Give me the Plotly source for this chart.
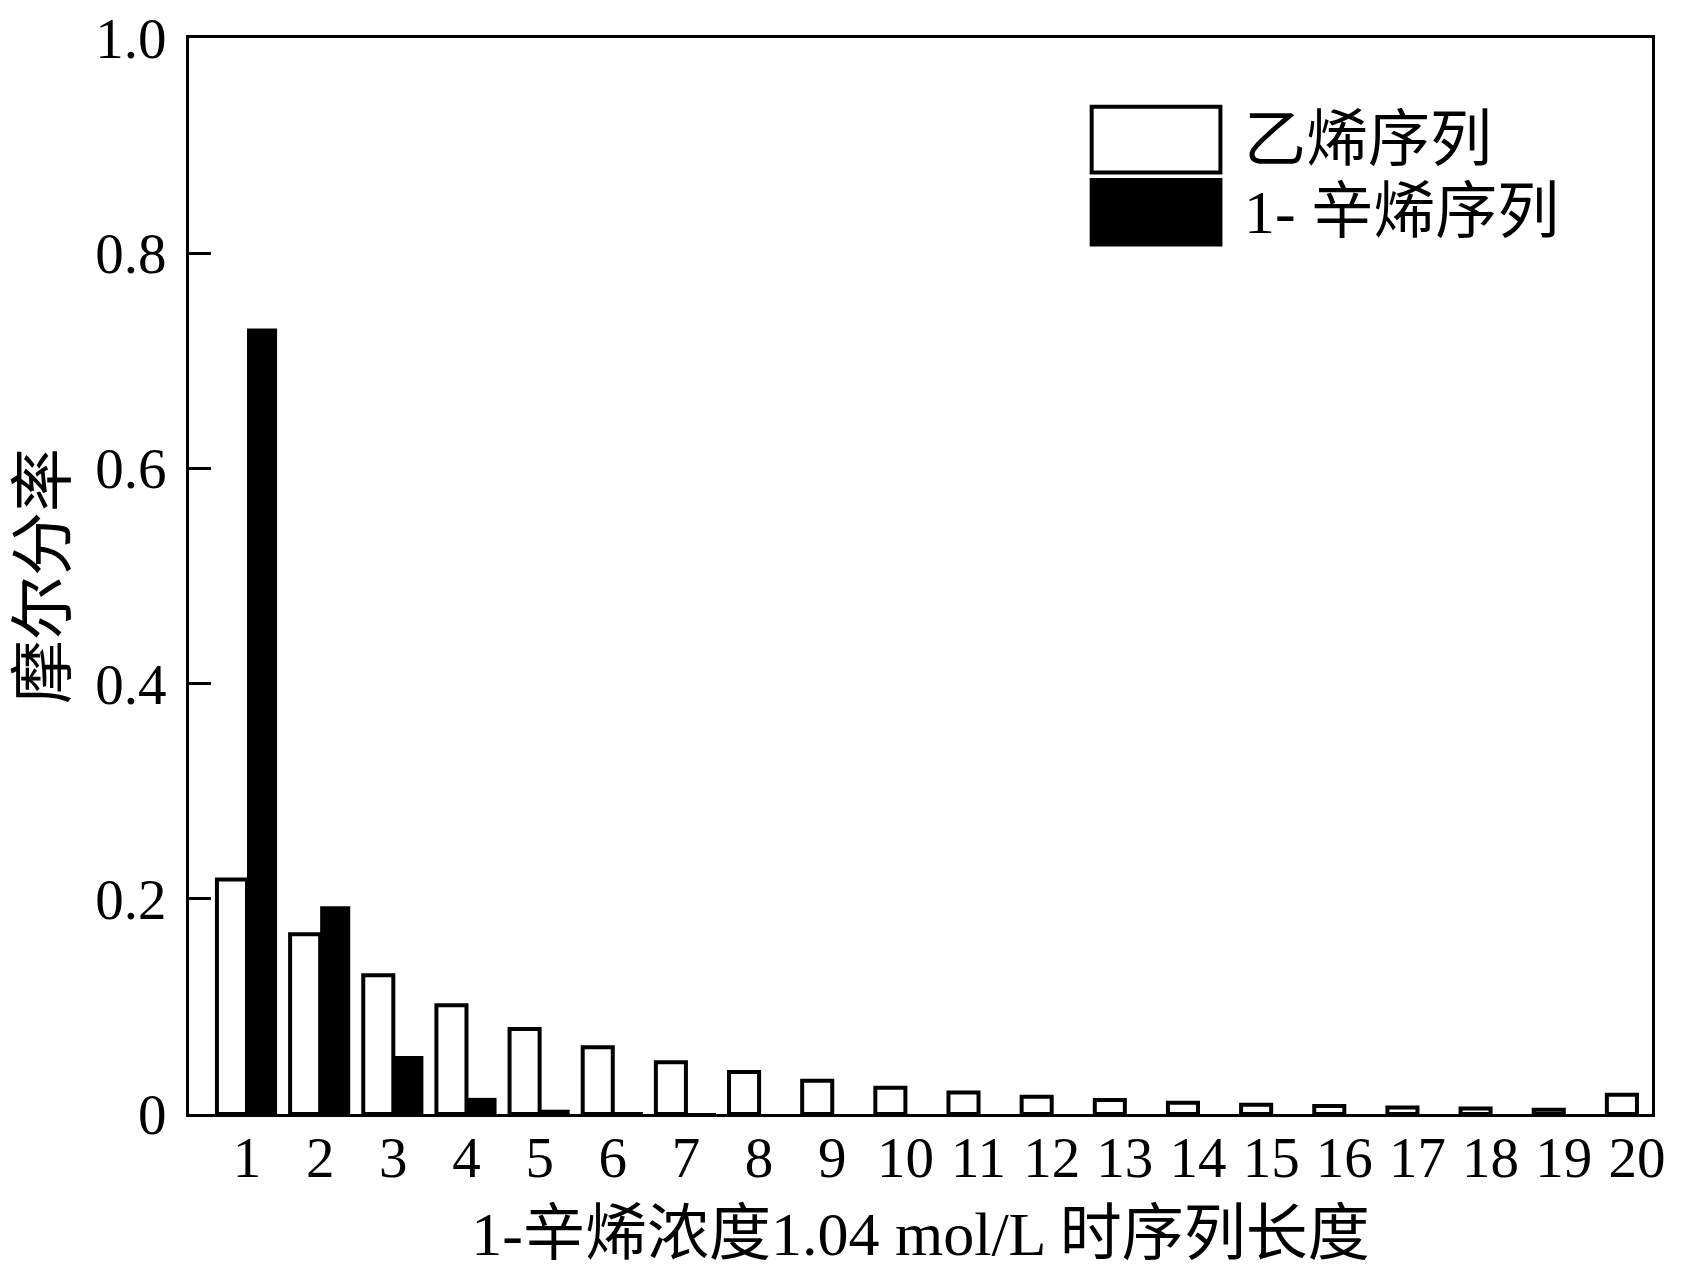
import plotly.graph_objects as go

# ---- data ----
lengths = list(range(1, 21))
tick_labels = [str(i) for i in lengths]
ethylene_seq = [0.218, 0.167, 0.129, 0.101, 0.079, 0.062, 0.048, 0.039, 0.031, 0.0245,
                0.020, 0.016, 0.013, 0.0105, 0.0086, 0.0074, 0.006, 0.005, 0.004, 0.018]
octene_seq = [0.730, 0.193, 0.054, 0.015, 0.004, 0.001, 0.0005, 0, 0, 0,
              0, 0, 0, 0, 0, 0, 0, 0, 0, 0]
y_ticks = [0, 0.2, 0.4, 0.6, 0.8, 1.0]
y_tick_labels = ["0", "0.2", "0.4", "0.6", "0.8", "1.0"]
series_names = ["乙烯序列", "1- 辛烯序列"]

FONT = "Liberation Serif, Times New Roman, Noto Sans CJK SC, serif"

fig = go.Figure()
fig.add_trace(go.Bar(x=lengths, y=ethylene_seq, name=series_names[0],
                     marker=dict(color="white", line=dict(color="black", width=4)),
                     showlegend=False))
fig.add_trace(go.Bar(x=lengths, y=octene_seq, name=series_names[1],
                     marker=dict(color="black", line=dict(color="black", width=0)),
                     showlegend=False))

# manual legend (large boxes as in the reference)
legend_items = [
    dict(fill="white", y0=0.875, y1=0.936, text=series_names[0]),
    dict(fill="black", y0=0.808, y1=0.868, text=series_names[1]),
]
for it in legend_items:
    fig.add_shape(type="rect", xref="paper", yref="paper",
                  x0=0.617, x1=0.705, y0=it["y0"], y1=it["y1"],
                  fillcolor=it["fill"], line=dict(color="black", width=4))
    fig.add_annotation(xref="paper", yref="paper", x=0.720, y=(it["y0"] + it["y1"]) / 2,
                       text=it["text"], showarrow=False, xanchor="left", yanchor="middle",
                       font=dict(family=FONT, size=62, color="black"))

fig.update_layout(
    width=1676, height=1269,
    margin=dict(l=181, r=32, t=30, b=163),
    paper_bgcolor="white", plot_bgcolor="white",
    barmode="group", bargap=0.178, bargroupgap=0,
    font=dict(family=FONT, color="black"),
)
fig.update_xaxes(
    range=[0.207, 20.206], tickmode="array", tickvals=lengths, ticktext=tick_labels,
    ticks="", showgrid=False, zeroline=False, automargin=False,
    showline=True, linecolor="black", linewidth=3, mirror=True,
    tickfont=dict(family=FONT, size=57), ticklabelstandoff=-8, ticklabeloverflow="allow",
    title=dict(text="1-辛烯浓度1.04 mol/L 时序列长度", font=dict(family=FONT, size=62), standoff=24),
)
fig.update_yaxes(
    range=[0, 1.0], tickmode="array", tickvals=y_ticks, ticktext=y_tick_labels,
    ticks="inside", ticklen=22, tickwidth=3, tickcolor="black",
    showgrid=False, zeroline=False, automargin=False,
    showline=True, linecolor="black", linewidth=3, mirror=True,
    tickfont=dict(family=FONT, size=57), ticklabelstandoff=8, ticklabeloverflow="allow",
    title=dict(text="摩尔分率", font=dict(family=FONT, size=64), standoff=22),
)

fig.write_html("out.html")
